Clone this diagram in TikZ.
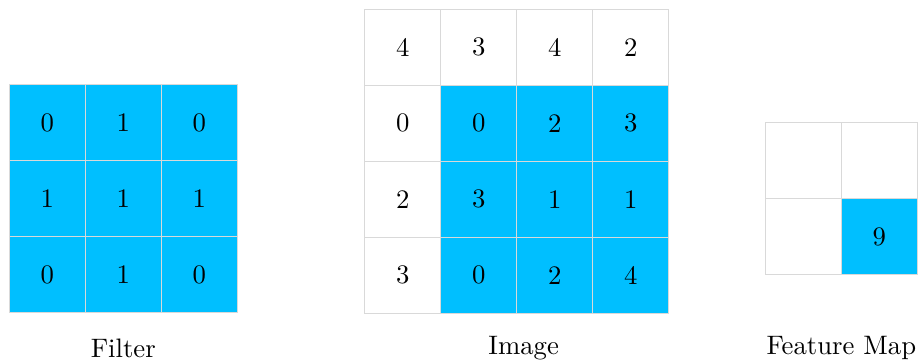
\documentclass[tikz,border=0pt]{standalone}
\definecolor{cellblue}{HTML}{00BFFF}
\definecolor{gridgray}{HTML}{D9D9D9}
\tikzset{
  cell/.style={draw=gridgray, line width=0.4pt, minimum size=1cm, inner sep=0pt, outer sep=0pt, anchor=north west, font=\fontsize{10}{12}\selectfont},
  hot/.style={cell, fill=cellblue},
  cold/.style={cell, fill=white},
  caption/.style={font=\fontsize{10}{12}\selectfont, inner sep=0pt}
}
\begin{document}
\begin{tikzpicture}
\useasboundingbox (0,0) rectangle (12.079,-4.776);
% Filter
\foreach \r/\row in {1/{0,1,0},2/{1,1,1},3/{0,1,0}} {
  \foreach \v [count=\c] in \row {
    \node[hot] (f-\r-\c) at ({0.122+(\c-1)}, {-1.118-(\r-1)}) {\v};
  }
}
% Image
\foreach \r/\row in {1/{4,3,4,2},2/{0,0,2,3},3/{2,3,1,1},4/{3,0,2,4}} {
  \foreach \v [count=\c] in \row {
    \pgfmathtruncatemacro{\ishot}{(\r>1) && (\c>1)}
    \ifnum\ishot=1
      \node[hot] (i-\r-\c) at ({4.8+(\c-1)}, {-0.122-(\r-1)}) {\v};
    \else
      \node[cold] (i-\r-\c) at ({4.8+(\c-1)}, {-0.122-(\r-1)}) {\v};
    \fi
  }
}
% Feature map
\node[cold] (m-1-1) at (10.07,-1.614) {};
\node[cold] (m-1-2) at (11.07,-1.614) {};
\node[cold] (m-2-1) at (10.07,-2.614) {};
\node[hot]  (m-2-2) at (11.07,-2.614) {9};
% Captions
\node[caption] (capf) at (1.622,-4.58) {Filter};
\node[caption] (capi) at (6.89,-4.58) {Image};
\node[caption] (capm) at (11.07,-4.58) {Feature Map};
\end{tikzpicture}
\end{document}
